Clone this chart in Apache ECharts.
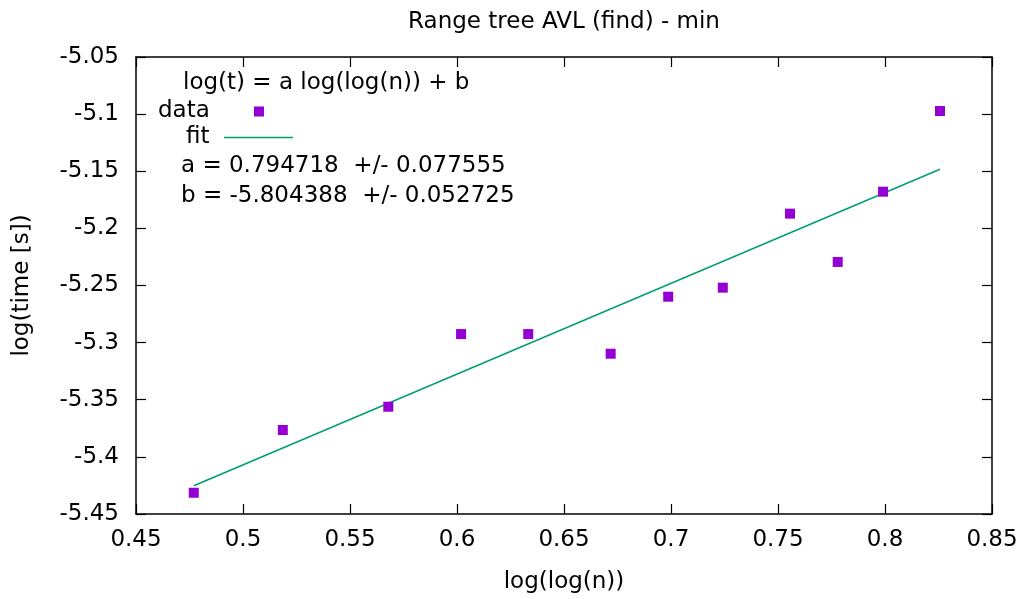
<!DOCTYPE html>
<html>
<head>
<meta charset="utf-8">
<script src="https://cdn.jsdelivr.net/npm/echarts@6/dist/echarts.min.js"></script>
<style>
html,body{margin:0;padding:0;background:#fff;}
#c{width:1024px;height:599px;}
</style>
</head>
<body>
<div id="c"></div>
<script>
// ---- data ----
const titleText = 'Range tree AVL (find) - min';
const xName = 'log(log(n))';
const yName = 'log(time [s])';
const dataX = [0.4770, 0.5186, 0.5679, 0.6019, 0.6333, 0.6718, 0.6987, 0.7242, 0.7556, 0.7779, 0.7991, 0.8257];
const dataY = [-5.4314, -5.3765, -5.3561, -5.2925, -5.2925, -5.3097, -5.2598, -5.2519, -5.1871, -5.2294, -5.1679, -5.0973];
const fitX = [0.4770, 0.8257];
const fitY = [-5.4253, -5.1482];
const xTicks = {min: 0.45, max: 0.85, interval: 0.05};
const yTicks = {min: -5.45, max: -5.05, interval: 0.05};
const fitFormula = 'log(t) = a log(log(n)) + b';
const fitParams = ['a = 0.794718  +/- 0.077555', 'b = -5.804388  +/- 0.052725'];

const FONT = 'DejaVu Sans';
const FS = 23;
const chart = echarts.init(document.getElementById('c'), null, {renderer: 'canvas'});

function fmt(v){ return String(Math.round(v*100)/100); }

const axisCommon = {
  type: 'value',
  splitLine: {show: false},
  axisLine: {show: true, onZero: false, lineStyle: {color: '#000', width: 1.5}},
  axisTick: {show: true, inside: true, length: 10, lineStyle: {color: '#000', width: 1.2}},
};

chart.setOption({
  animation: false,
  backgroundColor: '#fff',
  textStyle: {fontFamily: FONT},
  title: {
    text: titleText, left: 559, top: 6, textAlign: 'center',
    textStyle: {fontFamily: FONT, fontSize: FS, fontWeight: 'normal', color: '#000'}
  },
  grid: {left: 136, right: 32, top: 57, bottom: 85},
  legend: [
    {
      data: [{name: 'data', icon: 'rect'}],
      left: 158, top: 100, padding: 0, align: 'right', selectedMode: false,
      itemWidth: 10, itemHeight: 10,
      formatter: n => '{t|' + n + '}',
      textStyle: {fontFamily: FONT, fontSize: FS, color: '#000',
        rich: {t: {fontFamily: FONT, fontSize: FS, width: 91, lineHeight: 20, align: 'left'}}}
    },
    {
      data: [{name: 'fit', icon: 'rect'}],
      left: 186, top: 126, padding: 0, align: 'right', selectedMode: false,
      itemWidth: 69, itemHeight: 1.5,
      formatter: n => '{t|' + n + '}',
      textStyle: {fontFamily: FONT, fontSize: FS, color: '#000',
        rich: {t: {fontFamily: FONT, fontSize: FS, width: 33, lineHeight: 20, align: 'left'}}}
    }
  ],
  xAxis: [
    Object.assign({}, axisCommon, {
      position: 'bottom', min: xTicks.min, max: xTicks.max, interval: xTicks.interval,
      name: xName, nameLocation: 'middle', nameGap: 57,
      nameTextStyle: {fontFamily: FONT, fontSize: FS, color: '#000'},
      axisLabel: {fontFamily: FONT, fontSize: FS, color: '#000', margin: 15, formatter: fmt}
    }),
    Object.assign({}, axisCommon, {
      position: 'top', min: xTicks.min, max: xTicks.max, interval: xTicks.interval,
      axisLabel: {show: false}
    })
  ],
  yAxis: [
    Object.assign({}, axisCommon, {
      position: 'left', min: yTicks.min, max: yTicks.max, interval: yTicks.interval,
      name: yName, nameLocation: 'middle', nameGap: 102, nameRotate: 90,
      nameTextStyle: {fontFamily: FONT, fontSize: FS, color: '#000'},
      axisLabel: {fontFamily: FONT, fontSize: FS, color: '#000', margin: 17, formatter: fmt}
    }),
    Object.assign({}, axisCommon, {
      position: 'right', min: yTicks.min, max: yTicks.max, interval: yTicks.interval,
      axisLabel: {show: false}
    })
  ],
  graphic: [
    {type: 'text', left: 183, top: 72, style: {text: fitFormula, font: FS + 'px "' + FONT + '"', fill: '#000'}},
    {type: 'text', left: 181, top: 155, style: {text: fitParams[0], font: FS + 'px "' + FONT + '"', fill: '#000'}},
    {type: 'text', left: 181, top: 185, style: {text: fitParams[1], font: FS + 'px "' + FONT + '"', fill: '#000'}}
  ],
  series: [
    {
      name: 'data', type: 'scatter', xAxisIndex: 0, yAxisIndex: 0,
      symbol: 'rect', symbolSize: 10,
      itemStyle: {color: '#9400D3', opacity: 1},
      data: dataX.map((x, i) => [x, dataY[i]]),
      z: 3
    },
    {
      name: 'fit', type: 'line', xAxisIndex: 0, yAxisIndex: 0,
      showSymbol: false, symbol: 'none',
      lineStyle: {color: '#009E73', width: 1.5},
      itemStyle: {color: '#009E73'},
      data: fitX.map((x, i) => [x, fitY[i]]),
      z: 2
    }
  ]
});
</script>
</body>
</html>
